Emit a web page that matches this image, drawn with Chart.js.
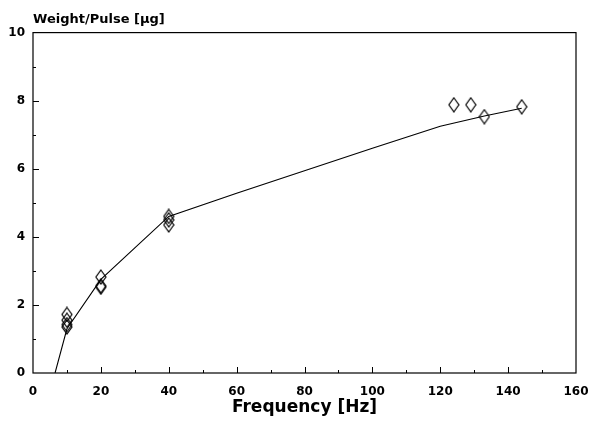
<!DOCTYPE html>
<html>
<head>
<meta charset="utf-8">
<script src="https://cdn.jsdelivr.net/npm/chart.js@4"></script>
<style>
  html, body { margin: 0; padding: 0; background: #fff; }
  #wrap { width: 598px; height: 422px; }
</style>
</head>
<body>
<div id="wrap"><canvas id="myChart"></canvas></div>
<script>
Chart.defaults.font.family = "'DejaVu Sans', 'Liberation Sans', sans-serif";
Chart.defaults.font.weight = 'bold';
Chart.defaults.color = '#000';

// measured points
var freqs   = [10, 10, 10, 10, 20, 20, 20, 40, 40, 40, 124, 129, 133, 144];
var weights = [1.72, 1.55, 1.42, 1.35, 2.82, 2.56, 2.52, 4.6, 4.5, 4.35, 7.88, 7.88, 7.53, 7.82];

// fitted curve
var fitFreqs   = [6.5, 10, 20, 40, 60, 80, 100, 120, 133, 144];
var fitWeights = [0, 1.3, 2.75, 4.6, 5.28, 5.94, 6.6, 7.25, 7.55, 7.78];

var xTicks = [0, 20, 40, 60, 80, 100, 120, 140, 160];
var yTicks = [0, 2, 4, 6, 8, 10];

function pts(xs, ys) {
  return xs.map(function (x, i) { return { x: x, y: ys[i] }; });
}

// tall open diamond marker
var marker = document.createElement('canvas');
marker.width = 12; marker.height = 16;
var mc = marker.getContext('2d');
mc.strokeStyle = '#000';
mc.lineWidth = 1.2;
mc.beginPath();
mc.moveTo(6, 1); mc.lineTo(11, 8); mc.lineTo(6, 15); mc.lineTo(1, 8); mc.closePath();
mc.stroke();

// frame + inward ticks
var frame = {
  id: 'frame',
  afterDraw: function (chart) {
    var c = chart.ctx, a = chart.chartArea;
    var xs = chart.scales.x, ys = chart.scales.y;
    c.save();
    c.strokeStyle = '#000';
    c.lineWidth = 1.2;
    c.strokeRect(a.left, a.top, a.right - a.left, a.bottom - a.top);
    c.lineWidth = 1;
    c.beginPath();
    for (var v = 10; v < 160; v += 10) {
      var px = Math.round(xs.getPixelForValue(v)) + 0.5;
      var len = (v % 20 === 0) ? 6 : 3;
      c.moveTo(px, a.bottom); c.lineTo(px, a.bottom - len);
    }
    for (var w = 1; w < 10; w += 1) {
      var py = Math.round(ys.getPixelForValue(w)) + 0.5;
      var l2 = (w % 2 === 0) ? 6 : 3;
      c.moveTo(a.left, py); c.lineTo(a.left + l2, py);
    }
    c.stroke();
    c.restore();
  }
};

new Chart(document.getElementById('myChart'), {
  type: 'scatter',
  data: {
    datasets: [
      {
        label: 'fit',
        data: pts(fitFreqs, fitWeights),
        showLine: true,
        borderColor: '#000',
        borderWidth: 1.1,
        pointRadius: 0,
        tension: 0
      },
      {
        label: 'measured',
        data: pts(freqs, weights),
        pointStyle: marker,
        pointRadius: 6
      }
    ]
  },
  options: {
    responsive: true,
    maintainAspectRatio: false,
    animation: false,
    layout: { padding: { top: 12, right: 22, left: 0, bottom: 0 } },
    plugins: {
      legend: { display: false },
      tooltip: { enabled: false },
      title: {
        display: true,
        text: 'Weight/Pulse [µg]',
        align: 'start',
        fullSize: false,
        font: { size: 13, weight: 'bold' },
        padding: { top: 0, bottom: 5 }
      }
    },
    scales: {
      x: {
        type: 'linear',
        min: 0, max: 160,
        afterBuildTicks: function (s) { s.ticks = xTicks.map(function (v) { return { value: v }; }); },
        afterFit: function (s) { s.height = 49; s.paddingLeft = 0; s.paddingRight = 0; },
        grid: { display: false, drawTicks: false },
        border: { display: false },
        ticks: { font: { size: 12, weight: 'bold' }, padding: 12, maxRotation: 0 },
        title: { display: true, text: 'Frequency [Hz]', font: { size: 17, weight: 'bold' }, padding: { top: 0, bottom: 4 } }
      },
      y: {
        type: 'linear',
        min: 0, max: 10,
        afterBuildTicks: function (s) { s.ticks = yTicks.map(function (v) { return { value: v }; }); },
        afterFit: function (s) { s.width = 33; s.paddingTop = 0; s.paddingBottom = 0; },
        grid: { display: false, drawTicks: false },
        border: { display: false },
        ticks: { font: { size: 12, weight: 'bold' }, padding: 8 }
      }
    }
  },
  plugins: [frame]
});
</script>
</body>
</html>
